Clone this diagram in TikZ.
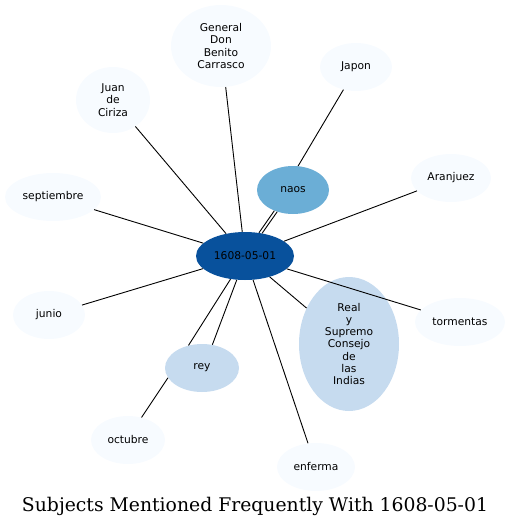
\documentclass[tikz,border=0pt]{standalone}
\usepackage{fontspec}
\setmainfont{DejaVu Sans}
\newfontfamily\titlefont{DejaVu Serif}
\usetikzlibrary{shapes.geometric}

\definecolor{hub}{HTML}{08519C}
\definecolor{midblue}{HTML}{6BAED6}
\definecolor{paleblue}{HTML}{C6DBEF}
\definecolor{faint}{HTML}{F7FBFF}

\tikzset{
  subj/.style={ellipse, inner sep=0pt, align=center,
    font=\fontsize{10.7}{12.2}\selectfont, fill=faint},
  link/.style={black, line width=0.9pt}
}

\begin{document}
\begin{tikzpicture}[x=1pt,y=-1pt]
    \useasboundingbox (0,0) rectangle (510,528);

    % Subjects
    \node[subj, fill=hub, minimum width=98, minimum height=48] (hub) at (245,256) {1608-05-01};
    \node[subj, fill=midblue, minimum width=72, minimum height=48] (naos) at (293,190) {naos};
    \node[subj, minimum width=100, minimum height=82] (general) at (221,46) {General\\Don\\Benito\\Carrasco};
    \node[subj, minimum width=72, minimum height=48] (japon) at (356,67) {Japon};
    \node[subj, minimum width=74, minimum height=66] (juan) at (113,100) {Juan\\de\\Ciriza};
    \node[subj, minimum width=80, minimum height=48] (aranjuez) at (451,178) {Aranjuez};
    \node[subj, minimum width=96, minimum height=48] (septiembre) at (53,197) {septiembre};
    \node[subj, minimum width=72, minimum height=48] (junio) at (49,315) {junio};
    \node[subj, minimum width=90, minimum height=48] (tormentas) at (460,322) {tormentas};
    \node[subj, fill=paleblue, minimum width=100, minimum height=134] (consejo) at (349,344) {Real\\y\\Supremo\\Consejo\\de\\las\\Indias};
    \node[subj, fill=paleblue, minimum width=74, minimum height=48] (rey) at (202,368) {rey};
    \node[subj, minimum width=74, minimum height=48] (octubre) at (128,440) {octubre};
    \node[subj, minimum width=78, minimum height=48] (enferma) at (316,467) {enferma};

    % Links from the date
    \draw[link] (hub) -- (general);
    \draw[link] (hub) -- (juan);
    \draw[link] (hub) -- (aranjuez);
    \draw[link] (hub) -- (septiembre);
    \draw[link] (hub) -- (junio);
    \draw[link] (hub) -- (tormentas);
    \draw[link] (hub) -- (consejo);
    \draw[link] (hub) -- (enferma);

    % Double links
    \draw[link] (hub.59) -- (naos.228);
    \draw[link] (hub.53) -- (naos.234);
    \draw[link] (hub.238) -- (rey.121);
    \draw[link] (hub.251) -- (rey.66);

    % Second ring
    \draw[link] (naos.78) -- (japon.241);
    \draw[link] (rey.196) -- (octubre.59);

    % Title
    \node[font=\titlefont\fontsize{18.8}{20}\selectfont] (title) at (255,506) {Subjects Mentioned Frequently With 1608-05-01};
\end{tikzpicture}
\end{document}
